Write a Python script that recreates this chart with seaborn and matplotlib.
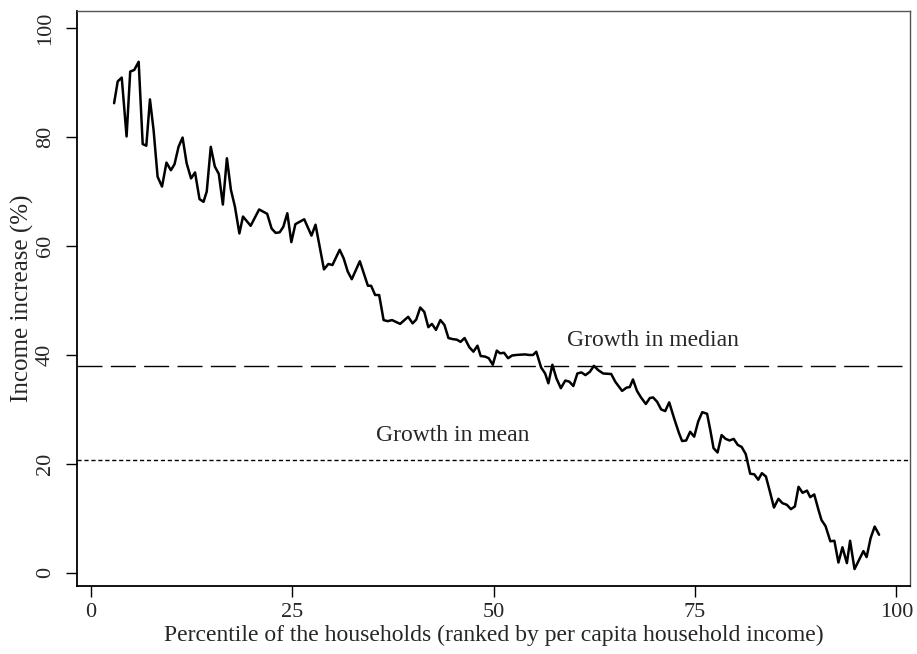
import matplotlib
matplotlib.use("Agg")
import matplotlib.pyplot as plt
import seaborn as sns
import pandas as pd

percentile = [2.9, 3.35, 3.85, 4.45, 4.9, 5.4, 5.95, 6.45, 6.9, 7.35, 7.8, 8.3, 8.85, 9.4, 9.95, 10.4,
              10.9, 11.4, 11.9, 12.45, 12.95, 13.5, 14.0, 14.4, 14.9, 15.4, 15.9, 16.4, 16.9, 17.4,
              17.9, 18.45, 18.9, 19.85, 20.9, 21.9, 22.45, 22.95, 23.45, 23.9, 24.4, 24.9, 25.4,
              26.5, 27.4, 27.9, 28.95, 29.5, 30.0, 30.9, 31.4, 31.9, 32.4, 33.4, 34.4, 34.8, 35.3,
              35.8, 36.35, 36.85, 37.4, 38.4, 39.4, 39.95, 40.4, 40.9, 41.4, 41.9, 42.35, 42.85,
              43.4, 43.9, 44.4, 44.95, 45.45, 45.9, 46.4, 47.0, 47.5, 48.0, 48.4, 48.95, 49.4,
              49.9, 50.4, 50.8, 51.3, 51.8, 52.3, 52.85, 53.9, 54.4, 54.9, 55.3, 55.9, 56.4, 56.8,
              57.3, 57.8, 58.35, 58.9, 59.4, 59.9, 60.4, 60.9, 61.4, 61.95, 62.45, 63.0, 63.6,
              64.6, 65.1, 65.95, 66.5, 66.9, 67.3, 67.8, 68.3, 68.9, 69.4, 69.8, 70.3, 70.8, 71.3,
              71.8, 72.4, 73.0, 73.4, 73.9, 74.4, 74.9, 75.4, 75.9, 76.5, 76.9, 77.3, 77.8, 78.3,
              78.8, 79.3, 79.8, 80.3, 80.8, 81.3, 81.85, 82.35, 82.85, 83.3, 83.8, 84.3, 84.8,
              85.35, 85.85, 86.4, 86.9, 87.4, 87.85, 88.35, 88.9, 89.3, 89.8, 90.3, 90.7, 91.2,
              91.8, 92.3, 92.8, 93.3, 93.85, 94.25, 94.8, 95.4, 95.9, 96.3, 96.8, 97.3, 97.85]
increase = [86.2, 90.2, 90.9, 80.1, 92.0, 92.3, 93.8, 78.7, 78.4, 86.9, 81.3, 72.7, 70.9, 75.3, 73.9, 75.0,
            78.2, 79.9, 75.2, 72.4, 73.5, 68.6, 68.1, 70.0, 78.2, 74.6, 73.2, 67.6, 76.1, 70.3,
            67.2, 62.3, 65.4, 63.7, 66.7, 65.9, 63.2, 62.4, 62.5, 63.5, 66.0, 60.7, 64.0,
            64.9, 61.9, 63.9, 55.7, 56.7, 56.5, 59.3, 57.7, 55.3, 53.9, 57.2, 52.7, 52.7, 51.0,
            51.0, 46.4, 46.2, 46.4, 45.7, 47.0, 45.8, 46.5, 48.7, 47.9, 45.1, 45.7, 44.6,
            46.4, 45.5, 43.1, 42.9, 42.8, 42.4, 43.1, 41.4, 40.6, 41.7, 39.8, 39.7, 39.4,
            38.2, 40.8, 40.3, 40.4, 39.4, 39.9, 40.0, 40.1, 40.0, 40.0, 40.6, 37.7, 36.6, 34.8,
            38.2, 35.7, 33.9, 35.3, 35.1, 34.3, 36.6, 36.8, 36.3, 36.9, 38.0, 37.2, 36.6,
            36.5, 35.1, 33.4, 34.0, 34.1, 35.5, 33.4, 32.2, 31.0, 32.1, 32.2, 31.4, 30.0, 29.7,
            31.3, 28.4, 25.7, 24.2, 24.3, 25.9, 25.0, 27.8, 29.5, 29.2, 26.2, 22.9, 22.1, 25.3,
            24.6, 24.3, 24.6, 23.5, 23.1, 21.8, 18.2, 18.1, 17.1, 18.3, 17.7, 14.9, 12.0,
            13.6, 12.8, 12.5, 11.7, 12.2, 15.8, 14.7, 15.1, 13.9, 14.4, 11.7, 9.7, 8.6,
            5.8, 5.9, 1.9, 4.7, 1.8, 5.9, 0.7, 2.5, 4.0, 2.9, 6.4, 8.5, 7.0]

median_growth = 38.0
mean_growth = 20.8
median_label = "Growth in median"
mean_label = "Growth in mean"
x_ticks = [0, 25, 50, 75, 100]
y_ticks = [0, 20, 40, 60, 80, 100]

df = pd.DataFrame({"percentile": percentile, "increase": increase})

sns.set_style("white")
plt.rcParams["font.family"] = ["Liberation Serif", "DejaVu Serif"]

fig = plt.figure(figsize=(9.17, 6.54), dpi=100)
ax = fig.add_axes([0.084, 0.104, 0.9085, 0.879])

sns.lineplot(data=df, x="percentile", y="increase", color="black", linewidth=1.8,
             sort=False, ax=ax)
ax.axhline(median_growth, color="black", linewidth=1.0, linestyle=(0, (18, 6)))
ax.axhline(mean_growth, color="black", linewidth=1.0, linestyle=(0, (3, 2)))

ax.text(69.8, median_growth + 4.6, median_label, ha="center", va="center", fontsize=17)
ax.text(44.9, mean_growth + 4.4, mean_label, ha="center", va="center", fontsize=17)

ax.set_xlim(-1.7, 101.7)
ax.set_ylim(-2.4, 103.1)
ax.set_xticks(x_ticks)
ax.set_yticks(y_ticks)
ax.set_xticklabels([str(t) for t in x_ticks], fontsize=16)
ax.set_yticklabels([str(t) for t in y_ticks], fontsize=16, rotation=90, va="center")
ax.tick_params(axis="both", direction="out", length=8, width=1.0, color="black",
               bottom=True, left=True)
ax.tick_params(axis="x", pad=4)
ax.tick_params(axis="y", pad=8)
ax.set_xlabel("Percentile of the households (ranked by per capita household income)",
              fontsize=17, labelpad=2)
ax.set_ylabel("Income increase (%)", fontsize=18, labelpad=1)

for side in ["left", "bottom"]:
    ax.spines[side].set_color("black")
    ax.spines[side].set_linewidth(1.3)
for side in ["top", "right"]:
    ax.spines[side].set_color("#555555")
    ax.spines[side].set_linewidth(1.0)

fig.savefig("out.png", dpi=100)
